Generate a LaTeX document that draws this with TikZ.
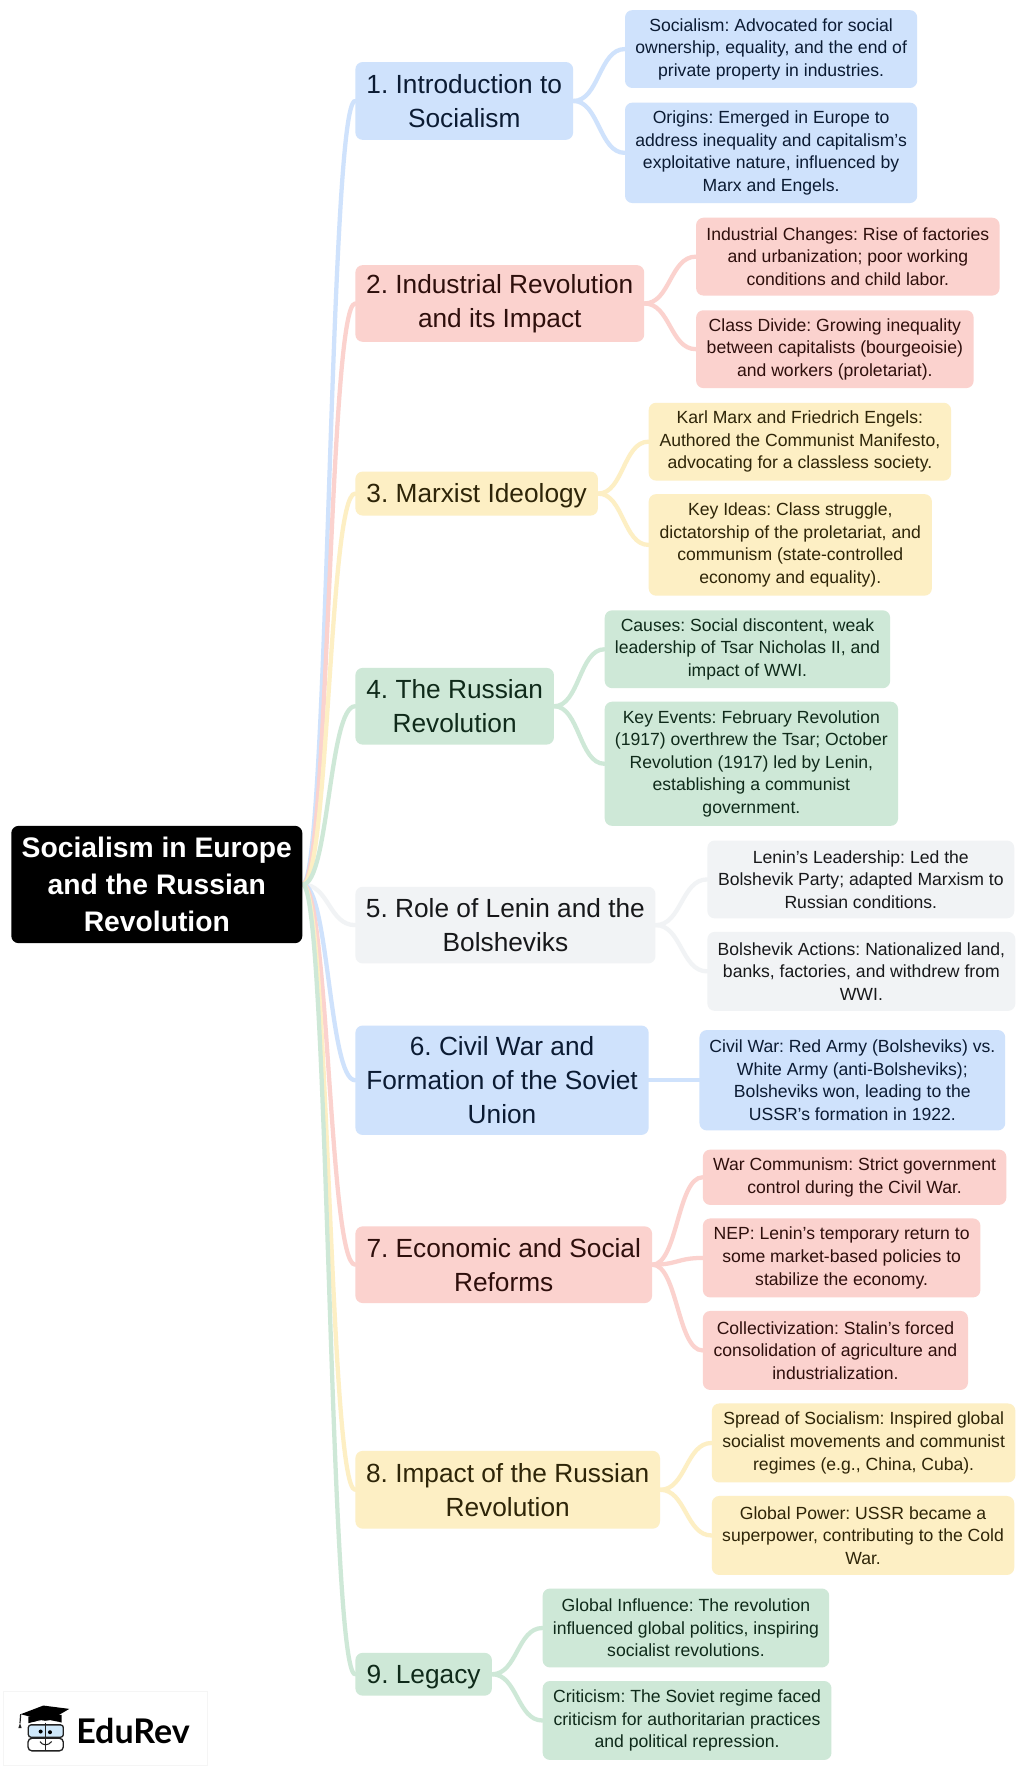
\documentclass[tikz,border=0pt]{standalone}
\usepackage{fontspec}
\setmainfont{Liberation Sans}
\newfontfamily\logofont{Lato}
\newlength\uu \setlength\uu{0.8462pt}
\definecolor{cblue}{HTML}{CFE2FC}
\definecolor{cred}{HTML}{FBD2CE}
\definecolor{cyel}{HTML}{FDEFC4}
\definecolor{cgrn}{HTML}{CEE8D7}
\definecolor{cgry}{HTML}{F1F3F5}
\definecolor{tblue}{HTML}{0B1B33}
\definecolor{tred}{HTML}{2E0F0C}
\definecolor{tyel}{HTML}{2E2508}
\definecolor{tgrn}{HTML}{0F2A1A}
\definecolor{tgry}{HTML}{17181A}
\definecolor{eyeblue}{HTML}{CFE8FA}
\definecolor{logoink}{HTML}{222222}
\usetikzlibrary{calc}
\tikzset{
  x=\uu,y=-\uu,
  box/.style={rounded corners=5.5pt,inner sep=0pt,align=center,anchor=center},
  rootbox/.style={box,fill=black,text=white,font=\fontsize{21.2}{27.5}\selectfont\bfseries},
  topicbox/.style={box,font=\fontsize{19.7}{25.4}\selectfont},
  topicone/.style={box,font=\fontsize{19.7}{25.4}\selectfont,align=none,text height=18pt,text depth=4pt},
  leafbox/.style={box,font=\fontsize{13.2}{16.95}\selectfont},
  sblue/.style={fill=cblue,text=tblue},
  sred/.style={fill=cred,text=tred},
  syel/.style={fill=cyel,text=tyel},
  sgrn/.style={fill=cgrn,text=tgrn},
  sgry/.style={fill=cgry,text=tgry},
  link/.style={line width=3.2pt,line cap=round},
}
% name, style, x0,y0,x1,y1, text
\newcommand\bx[7]{%
  \pgfmathsetmacro\cxx{(#3+#5)/2}\pgfmathsetmacro\cyy{(#4+#6)/2}%
  \pgfmathsetmacro\www{#5-#3}\pgfmathsetmacro\hhh{#6-#4}%
  \node[#2,minimum width=\www\uu,minimum height=\hhh\uu] (#1) at (\cxx,\cyy) {#7};}
% colour, from, to
\newcommand\cv[3]{%
  \draw[link,#1] (#2.east) .. controls ($(#2.east)!0.5!(#3.west |- #2.east)$) and ($(#2.east |- #3.west)!0.5!(#3.west)$) .. (#3.west);}
\begin{document}
\frenchspacing
\begin{tikzpicture}
\useasboundingbox (0,0) rectangle (907.6,1568);
\fill[white] (0,0) rectangle (907.6,1568);
\pgfdeclarelayer{front}\pgfsetlayers{main,front}
\begin{pgfonlayer}{front}
\bx{root}{rootbox}{10}{732}{268}{836}{Socialism in Europe\\and the Russian\\Revolution}
\bx{t1}{topicbox,sblue}{315}{55}{508}{124}{1. Introduction to\\Socialism}
\bx{t2}{topicbox,sred}{315}{235}{571}{303}{2. Industrial Revolution\\and its Impact}
\bx{t3}{topicone,syel}{315}{418}{530}{457}{3. Marxist Ideology}
\bx{t4}{topicbox,sgrn}{315}{592}{491}{660}{4. The Russian\\Revolution}
\bx{t5}{topicbox,sgry}{315}{786}{581}{854}{5. Role of Lenin and the\\Bolsheviks}
\bx{t6}{topicbox,sblue}{315}{909}{575}{1006}{6. Civil War and\\Formation of the Soviet\\Union}
\bx{t7}{topicbox,sred}{315}{1087}{578}{1155}{7. Economic and Social\\Reforms}
\bx{t8}{topicbox,syel}{315}{1286}{585}{1355}{8. Impact of the Russian\\Revolution}
\bx{t9}{topicone,sgrn}{315}{1465}{436}{1503}{9. Legacy}
\bx{a1}{leafbox,sblue}{554}{9}{813}{78}{Socialism: Advocated for social\\ownership, equality, and the end of\\private property in industries.}
\bx{b1}{leafbox,sblue}{554}{91}{813}{180}{Origins: Emerged in Europe to\\address inequality and capitalism’s\\exploitative nature, influenced by\\Marx and Engels.}
\bx{a2}{leafbox,sred}{617}{193}{886}{262}{Industrial Changes: Rise of factories\\and urbanization; poor working\\conditions and child labor.}
\bx{b2}{leafbox,sred}{617}{275}{863}{344}{Class Divide: Growing inequality\\between capitalists (bourgeoisie)\\and workers (proletariat).}
\bx{a3}{leafbox,syel}{575}{357}{843}{426}{Karl Marx and Friedrich Engels:\\Authored the Communist Manifesto,\\advocating for a classless society.}
\bx{b3}{leafbox,syel}{575}{438}{826}{528}{Key Ideas: Class struggle,\\dictatorship of the proletariat, and\\communism (state-controlled\\economy and equality).}
\bx{a4}{leafbox,sgrn}{536}{541}{789}{610}{Causes: Social discontent, weak\\leadership of Tsar Nicholas II, and\\impact of WWI.}
\bx{b4}{leafbox,sgrn}{536}{622}{796}{732}{Key Events: February Revolution\\(1917) overthrew the Tsar; October\\Revolution (1917) led by Lenin,\\establishing a communist\\government.}
\bx{a5}{leafbox,sgry}{627}{745}{899}{814}{Lenin’s Leadership: Led the\\Bolshevik Party; adapted Marxism to\\Russian conditions.}
\bx{b5}{leafbox,sgry}{627}{826}{900}{896}{Bolshevik Actions: Nationalized land,\\banks, factories, and withdrew from\\WWI.}
\bx{a6}{leafbox,sblue}{620}{913}{891}{1002}{Civil War: Red Army (Bolsheviks) vs.\\White Army (anti-Bolsheviks);\\Bolsheviks won, leading to the\\USSR's formation in 1922.}
\bx{a7}{leafbox,sred}{623}{1019}{892}{1068}{War Communism: Strict government\\control during the Civil War.}
\bx{b7}{leafbox,sred}{623}{1080}{869}{1150}{NEP: Lenin’s temporary return to\\some market-based policies to\\stabilize the economy.}
\bx{c7}{leafbox,sred}{623}{1162}{858}{1232}{Collectivization: Stalin's forced\\consolidation of agriculture and\\industrialization.}
\bx{a8}{leafbox,syel}{631}{1244}{900}{1314}{Spread of Socialism: Inspired global\\socialist movements and communist\\regimes (e.g., China, Cuba).}
\bx{b8}{leafbox,syel}{631}{1326}{899}{1396}{Global Power: USSR became a\\superpower, contributing to the Cold\\War.}
\bx{a9}{leafbox,sgrn}{481}{1408}{735}{1478}{Global Influence: The revolution\\influenced global politics, inspiring\\socialist revolutions.}
\bx{b9}{leafbox,sgrn}{481}{1490}{737}{1560}{Criticism: The Soviet regime faced\\criticism for authoritarian practices\\and political repression.}
\end{pgfonlayer}
% connectors
\cv{cgry}{root}{t5}
\cv{cblue}{root}{t6}\cv{cred}{root}{t7}\cv{cyel}{root}{t8}\cv{cgrn}{root}{t9}
\cv{cblue}{root}{t1}\cv{cred}{root}{t2}\cv{cyel}{root}{t3}\cv{cgrn}{root}{t4}
\cv{cblue}{t1}{a1}\cv{cblue}{t1}{b1}
\cv{cred}{t2}{a2}\cv{cred}{t2}{b2}
\cv{cyel}{t3}{a3}\cv{cyel}{t3}{b3}
\cv{cgrn}{t4}{a4}\cv{cgrn}{t4}{b4}
\cv{cgry}{t5}{a5}\cv{cgry}{t5}{b5}
\cv{cblue}{t6}{a6}
\cv{cred}{t7}{a7}\cv{cred}{t7}{b7}\cv{cred}{t7}{c7}
\cv{cyel}{t8}{a8}\cv{cyel}{t8}{b8}
\cv{cgrn}{t9}{a9}\cv{cgrn}{t9}{b9}
% logo, in reference pixels
\begin{scope}[x=0.75pt,y=-0.75pt]
\draw[draw=black!4,fill=white,line width=0.4pt] (3.5,1691.5) rectangle (207.5,1765.5);
\node[font=\logofont\bfseries\fontsize{25.5}{25.5}\selectfont,anchor=base west,inner sep=0pt,text=black] (logotext) at (76,1744) {EduRev};
\end{scope}
% logo icon, in units of a third of a reference pixel
\begin{scope}[x=0.25pt,y=-0.25pt,shift={(0pt,-1267.5pt)}]
\fill[black] (85,80) -- (85,100) .. controls (115,90) and (160,90) .. (185,98) -- (185,75) -- cycle;
\fill[black] (62,73) -- (130,47) -- (208,57) -- (165,82) -- (135,92) -- cycle;
\draw[white,line width=0.5pt] (105,98) .. controls (120,90) and (130,90) .. (137,98) .. controls (145,90) and (155,90) .. (168,98);
\draw[logoink,line width=0.9pt] (62,73) -- (60,100);
\fill[logoink] (60,100) -- (65,115) -- (55,115) -- cycle;
\draw[logoink,line width=1pt,fill=eyeblue,rounded corners=2pt] (85,105) rectangle (190,142);
\draw[logoink,line width=1pt,rounded corners=3pt] (84,145) rectangle (190,183);
\draw[logoink,line width=1pt] (137,98) -- (137,183);
\fill[black] (122,125) circle (6);
\fill[black] (150,127) circle (6);
\draw[logoink,line width=0.8pt] (120,155) .. controls (128,168) and (145,168) .. (155,155);
\end{scope}
\end{tikzpicture}
\end{document}
